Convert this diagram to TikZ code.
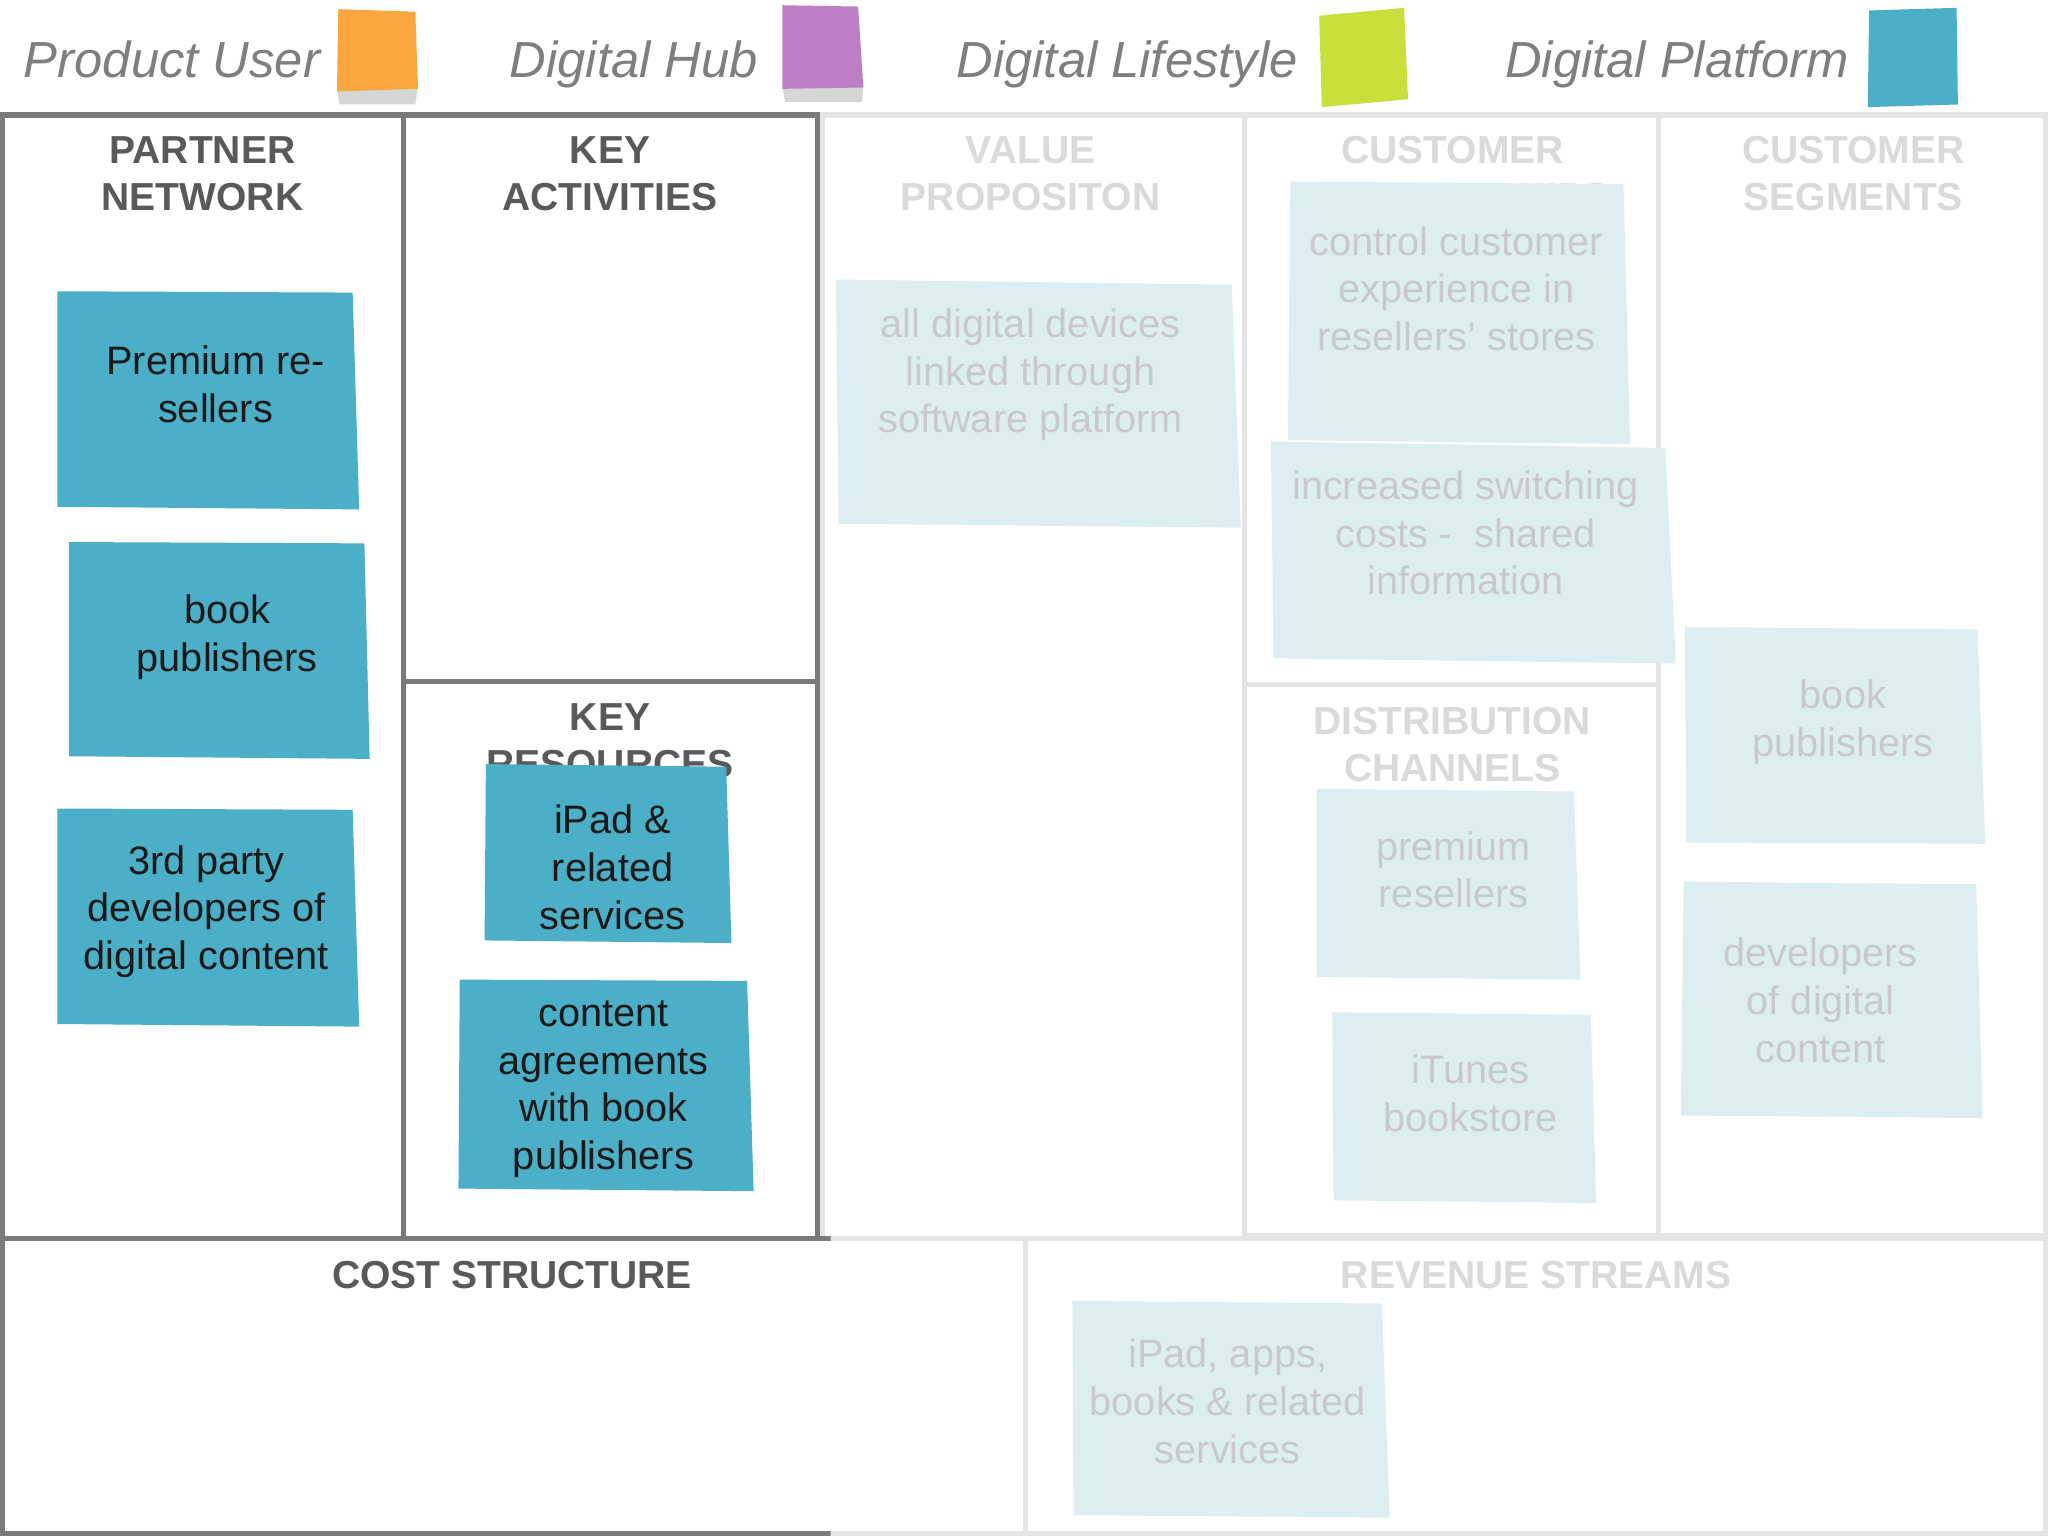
\documentclass[tikz,border=0pt]{standalone}
\usepackage{fontspec}
\setmainfont{Liberation Sans}
\usepackage{xcolor}
\usepackage{tikz}
\usetikzlibrary{positioning, calc}

\definecolor{griddark}{HTML}{7A7A7A}
\definecolor{gridlight}{HTML}{E5E5E7}
\definecolor{headdark}{HTML}{595959}
\definecolor{headlight}{HTML}{DADADD}
\definecolor{legendgray}{HTML}{7F7F7F}
\definecolor{notetxt}{HTML}{C9C9CD}
\definecolor{stickyblue}{HTML}{4BAFC7}
\definecolor{stickypale}{HTML}{DCEEF2}
\definecolor{stickyorange}{HTML}{F9A540}
\definecolor{stickypurple}{HTML}{BD7EC6}
\definecolor{stickygreen}{HTML}{C8DF3C}

\begin{document}
\begin{tikzpicture}[
    x=0.2mm, y=-0.2mm,
    legend/.style={font=\fontsize{22.1}{26}\selectfont\itshape, text=legendgray, anchor=base west, inner sep=0pt},
    head/.style={font=\fontsize{17}{20.6}\selectfont\bfseries, align=center, inner sep=0pt},
    darkhead/.style={head, text=headdark},
    lighthead/.style={head, text=headlight},
    note/.style={font=\fontsize{17.3}{20.8}\selectfont, align=center, inner sep=0pt},
    darknote/.style={note, text=black!90},
    lightnote/.style={note, text=notetxt},
    darkbox/.style={draw=griddark, line width=0.8mm},
    lightbox/.style={draw=gridlight, line width=0.8mm},
    shadow/.style={fill=black!35, opacity=0.45}
]

\useasboundingbox[fill=white] (0,0) rectangle (1568,1176);

% Legend (top row)
\node[legend] (puser) at (18,59) {Product User};
\fill[shadow] (258,68) -- (320,66) -- (318,80) -- (260,80) -- cycle;
\fill[stickyorange] (259,7) -- (318,9) -- (320,68) -- (258,70) -- cycle;

\node[legend] (dhub) at (390,59) {Digital Hub};
\fill[shadow] (599,66) -- (661,65) -- (660,78) -- (601,78) -- cycle;
\fill[stickypurple] (599,4) -- (657,5) -- (661,67) -- (599,68) -- cycle;

\node[legend] (dlife) at (732,59) {Digital Lifestyle};
\fill[stickygreen] (1010,12) -- (1075,6) -- (1078,76) -- (1012,82) -- cycle;

\node[legend] (dplat) at (1152,59) {Digital Platform};
\fill[stickyblue] (1431,8) -- (1498,6) -- (1499,80) -- (1430,82) -- cycle;

% Canvas grid - faded part
\draw[lightbox] (630,88) rectangle (953,948);
\draw[lightbox] (953,88) rectangle (1270,524);
\draw[lightbox] (953,524) rectangle (1270,946);
\draw[lightbox] (1270,88) rectangle (1566,946);
\draw[lightbox] (2,948) rectangle (785,1174);
\draw[lightbox] (785,948) rectangle (1566,1174);

% Canvas grid - highlighted part
\begin{scope}
    \clip (0,0) rectangle (636,1176);
    \draw[darkbox] (2,88) rectangle (309,948);
    \draw[darkbox] (309,88) rectangle (626,522);
    \draw[darkbox] (309,522) rectangle (626,948);
    \draw[darkbox] (2,948) rectangle (785,1174);
\end{scope}

% Block titles
\node[darkhead] (pn) at (155,133) {PARTNER\\NETWORK};
\node[darkhead] (ka) at (467,133) {KEY\\ACTIVITIES};
\node[darkhead] (kr) at (467,567) {KEY\\RESOURCES};
\node[lighthead] (vp) at (789,133) {VALUE\\PROPOSITON};
\node[lighthead] (cr) at (1112,133) {CUSTOMER\\RELATIONSHIPS};
\node[lighthead] (dc) at (1112,570) {DISTRIBUTION\\CHANNELS};
\node[lighthead] (cs) at (1419,133) {CUSTOMER\\SEGMENTS};
\node[darkhead] (cost) at (392,976) {COST STRUCTURE};
\node[lighthead] (rev) at (1176,976) {REVENUE STREAMS};

% Sticky notes - partner network
\fill[stickyblue] (44,223) -- (270,224) -- (275,390) -- (44,388) -- cycle;
\node[darknote] (resell) at (165,294) {Premium re-\\sellers};
\fill[stickyblue] (53,415) -- (279,416) -- (283,581) -- (53,579) -- cycle;
\node[darknote] (bookpn) at (174,488) {book\\publishers};
\fill[stickyblue] (44,619) -- (270,620) -- (275,786) -- (44,784) -- cycle;
\node[darknote] (devs) at (158,698) {3rd party\\developers of\\digital content};

% Sticky notes - key resources
\fill[stickyblue] (372,585) -- (556,587) -- (560,722) -- (371,720) -- cycle;
\node[darknote] (ipad) at (469,664) {iPad \&\\related\\services};
\fill[stickyblue] (352,750) -- (572,751) -- (577,912) -- (351,910) -- cycle;
\node[darknote] (agree) at (462,834) {content\\agreements\\with book\\publishers};

% Sticky notes - value proposition
\fill[stickypale] (640,214) -- (943,218) -- (950,404) -- (642,401) -- cycle;
\node[lightnote] (devices) at (789,287) {all digital devices\\linked through\\software platform};

% Sticky notes - customer relationships
\fill[stickypale] (988,139) -- (1243,141) -- (1248,340) -- (986,337) -- cycle;
\node[lightnote] (control) at (1115,221) {control customer\\experience in\\resellers’ stores};
\fill[stickypale] (973,338) -- (1275,343) -- (1283,508) -- (975,504) -- cycle;
\node[lightnote] (switch) at (1122,408) {increased switching\\costs - \ shared\\information};

% Sticky notes - distribution channels
\fill[stickypale] (1008,604) -- (1205,606) -- (1210,750) -- (1008,748) -- cycle;
\node[lightnote] (premium) at (1113,666) {premium\\resellers};
\fill[stickypale] (1020,775) -- (1218,777) -- (1222,921) -- (1021,919) -- cycle;
\node[lightnote] (itunes) at (1126,837) {iTunes\\bookstore};

% Sticky notes - customer segments
\fill[stickypale] (1290,480) -- (1514,482) -- (1520,646) -- (1291,645) -- cycle;
\node[lightnote] (bookcs) at (1411,553) {book\\publishers};
\fill[stickypale] (1289,675) -- (1513,677) -- (1518,856) -- (1287,854) -- cycle;
\node[lightnote] (devcs) at (1394,766) {developers\\of digital\\content};

% Sticky notes - revenue streams
\fill[stickypale] (821,996) -- (1058,998) -- (1064,1162) -- (822,1160) -- cycle;
\node[lightnote] (sales) at (940,1073) {iPad, apps,\\books \& related\\services};

\end{tikzpicture}
\end{document}
